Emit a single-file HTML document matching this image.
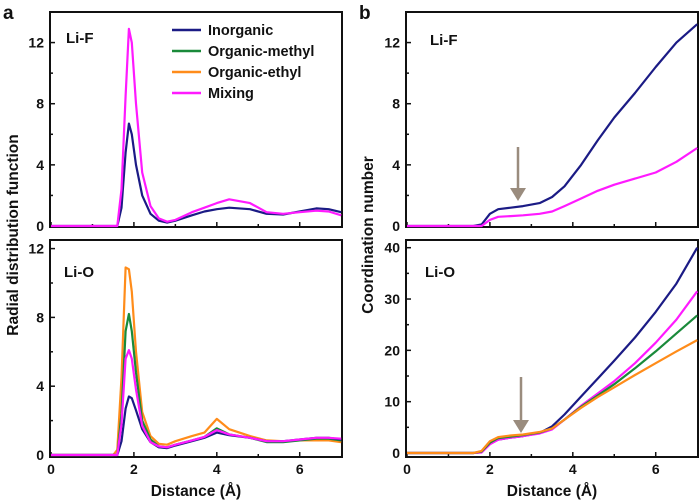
<!DOCTYPE html>
<html><head><meta charset="utf-8"><style>
body{margin:0;background:#fff}
svg{display:block;font-family:"Liberation Sans",Arial,sans-serif;font-weight:bold}
</style></head><body>
<svg id="c" width="700" height="502" viewBox="0 0 700 502"></svg>
<script>
// ---- data ----
const rdfX=[0,1.5,1.6,1.7,1.8,1.88,1.95,2.05,2.2,2.4,2.6,2.8,3.0,3.4,3.7,4.0,4.3,4.8,5.2,5.6,6.0,6.4,6.7,7.0];
const rdfLiF_inorganic=[0,0,0,1.2,4.8,6.7,6.0,4.0,2.0,0.8,0.35,0.22,0.35,0.7,0.95,1.1,1.2,1.1,0.8,0.75,0.95,1.15,1.1,0.9];
const rdfLiF_mixing=[0,0,0,2.4,8.5,12.9,12.0,8.0,3.5,1.3,0.5,0.28,0.4,0.9,1.2,1.5,1.75,1.5,0.9,0.8,0.9,1.0,0.95,0.7];
const rdfLiO_inorganic=[0,0,0,0.8,2.7,3.4,3.3,2.6,1.5,0.75,0.45,0.4,0.55,0.8,1.0,1.3,1.15,1.0,0.8,0.8,0.9,1.0,1.0,0.9];
const rdfLiO_methyl=[0,0,0,2.4,7.2,8.2,7.2,4.8,2.0,0.9,0.5,0.45,0.6,0.85,1.05,1.55,1.2,1.0,0.75,0.75,0.85,0.95,0.95,0.85];
const rdfLiO_ethyl=[0,0,0.3,4.5,10.9,10.8,9.5,6.0,2.5,1.1,0.65,0.6,0.8,1.1,1.3,2.1,1.5,1.1,0.85,0.8,0.85,0.85,0.85,0.75];
const rdfLiO_mixing=[0,0,0,1.8,5.6,6.1,5.6,3.8,1.7,0.75,0.5,0.45,0.6,0.85,1.05,1.45,1.2,1.0,0.8,0.8,0.9,1.0,1.0,0.95];
const cnX=[0,1.6,1.8,2.0,2.2,2.5,2.8,3.2,3.5,3.8,4.2,4.6,5.0,5.5,6.0,6.5,7.0];
const cnLiF_inorganic=[0,0,0.1,0.8,1.1,1.2,1.3,1.5,1.9,2.6,4.0,5.6,7.1,8.7,10.4,12.0,13.2];
const cnLiF_mixing=[0,0,0,0.4,0.6,0.65,0.7,0.8,0.95,1.3,1.8,2.3,2.7,3.1,3.5,4.2,5.1];
const cnLiO_inorganic=[0,0,0.2,1.8,2.6,3.0,3.3,3.9,5.2,7.5,11,14.5,18,22.5,27.5,33,40];
const cnLiO_methyl=[0,0,0.3,2.0,2.9,3.2,3.5,4.0,4.8,6.5,9.0,11.2,13.4,16.5,19.8,23.3,26.8];
const cnLiO_ethyl=[0,0,0.4,2.3,3.1,3.4,3.6,4.1,4.8,6.5,8.8,10.9,12.8,15.2,17.5,19.8,22];
const cnLiO_mixing=[0,0,0.1,1.7,2.6,3.0,3.3,3.8,4.6,6.5,9.2,11.6,14.0,17.5,21.5,26.0,31.5];
const xTicks=[0,2,4,6];
const rdfTicks=[0,4,8,12];
const cnLiOTicks=[0,10,20,30,40];
const seriesNames=["Inorganic","Organic-methyl","Organic-ethyl","Mixing"];
const colors={inorganic:"#1b1b85",methyl:"#1a8a3a",ethyl:"#ff8c1a",mixing:"#ff1aff"};

const svg=document.getElementById('c');
const NS="http://www.w3.org/2000/svg";
function mk(tag,attrs,parent){const e=document.createElementNS(NS,tag);for(const k in attrs)e.setAttribute(k,attrs[k]);(parent||svg).appendChild(e);return e;}

function panel(name,L,R,T,B,ymin,ymax,y0px,yticks,minorStep,showX){
  const g=mk('g',{});
  
  
  const x0=L+1, xs=(R-L-1)/7.02;
  const sx=v=>x0+v*xs;
  const ky=(y0px-T)/(ymax-ymin);
  const syy=v=>y0px-(v-ymin)*ky;
  mk('rect',{x:L,y:T,width:R-L,height:B-T,fill:'none',stroke:'#111','stroke-width':2},g);
  xTicks.forEach(t=>{
    mk('line',{x1:sx(t),x2:sx(t),y1:B,y2:B-5,stroke:'#111','stroke-width':1.5},g);
    if(t+1<7)mk('line',{x1:sx(t+1),x2:sx(t+1),y1:B,y2:B-3,stroke:'#111','stroke-width':1.5},g);
    if(showX){const tx=mk('text',{x:sx(t),y:B+17,'text-anchor':'middle','font-size':14,fill:'#111'},g);tx.textContent=t;
      }
  });
  yticks.forEach(t=>{
    mk('line',{x1:L,x2:L+5,y1:syy(t),y2:syy(t),stroke:'#111','stroke-width':1.5},g);
    const m=t+minorStep; if(syy(m)>T+3)mk('line',{x1:L,x2:L+3,y1:syy(m),y2:syy(m),stroke:'#111','stroke-width':1.5},g);
    const tx=mk('text',{x:L-6,y:syy(t)+5,'text-anchor':'end','font-size':14,fill:'#111'},g);tx.textContent=t;
    
  });
  return {g,sx,sy:syy};
}
function line(p,xs,ys,color,name){
  const pts=xs.map((x,i)=>p.sx(x).toFixed(1)+','+p.sy(ys[i]).toFixed(1)).join(' ');
  const pl=mk('polyline',{points:pts,fill:'none',stroke:color,'stroke-width':2.2,'stroke-linejoin':'round'},p.g);
  
  
}
function txt(x,y,s,size,name,anchor){const t=mk('text',{x:x,y:y,'font-size':size,fill:'#111','text-anchor':anchor||'start'});t.textContent=s;
  return t;}

const aT=panel('rdf-li-f-panel',50,342,12,227,0,14,226,rdfTicks,2,false);
line(aT,rdfX,rdfLiF_inorganic,colors.inorganic,'rdf-li-f-inorganic-line');
line(aT,rdfX,rdfLiF_mixing,colors.mixing,'rdf-li-f-mixing-line');
const aB=panel('rdf-li-o-panel',50,342,240,457,0,12.5,455,rdfTicks,2,true);
line(aB,rdfX,rdfLiO_ethyl,colors.ethyl,'rdf-li-o-ethyl-line');
line(aB,rdfX,rdfLiO_methyl,colors.methyl,'rdf-li-o-methyl-line');
line(aB,rdfX,rdfLiO_inorganic,colors.inorganic,'rdf-li-o-inorganic-line');
line(aB,rdfX,rdfLiO_mixing,colors.mixing,'rdf-li-o-mixing-line');
const bT=panel('cn-li-f-panel',406,698,12,227,0,14,226,rdfTicks,2,false);
line(bT,cnX,cnLiF_inorganic,colors.inorganic,'cn-li-f-inorganic-line');
line(bT,cnX,cnLiF_mixing,colors.mixing,'cn-li-f-mixing-line');
const bB=panel('cn-li-o-panel',406,698,240,457,0,41.5,453,cnLiOTicks,5,true);
line(bB,cnX,cnLiO_inorganic,colors.inorganic,'cn-li-o-inorganic-line');
line(bB,cnX,cnLiO_mixing,colors.mixing,'cn-li-o-mixing-line');
line(bB,cnX,cnLiO_methyl,colors.methyl,'cn-li-o-methyl-line');
line(bB,cnX,cnLiO_ethyl,colors.ethyl,'cn-li-o-ethyl-line');

function arrow(x,y1,y2,name){const g=mk('g',{});
  mk('line',{x1:x,x2:x,y1:y1,y2:y2-8,stroke:'#9a8c7e','stroke-width':2.5},g);
  mk('polygon',{points:`${x-8},${y2-13} ${x+8},${y2-13} ${x},${y2}`,fill:'#9a8c7e'},g);}
arrow(518,147,201,'li-f-arrow');
arrow(521,377,433,'li-o-arrow');

const legColors=[colors.inorganic,colors.methyl,colors.ethyl,colors.mixing];
seriesNames.forEach((n,i)=>{const y=30+i*21;
  const g=mk('g',{});
  mk('line',{x1:172,x2:201,y1:y,y2:y,stroke:legColors[i],'stroke-width':2.5},g);
  const t=mk('text',{x:208,y:y+5,'font-size':14.5,fill:'#111'},g);t.textContent=n;});

txt(3,19,'a',19,'panel-label-a');
txt(359,19,'b',19,'panel-label-b');
txt(66,43,'Li-F',15,'li-f-label-a');
txt(64,277,'Li-O',15,'li-o-label-a');
txt(430,45,'Li-F',15,'li-f-label-b');
txt(425,277,'Li-O',15,'li-o-label-b');
txt(196,496,'Distance (Å)',15.5,'x-axis-title-a','middle');
txt(552,496,'Distance (Å)',15.5,'x-axis-title-b','middle');
const ya=txt(0,0,'Radial distribution function',15.5,'y-axis-title-a','middle');ya.setAttribute('transform','translate(18,235) rotate(-90)');
const yb=txt(0,0,'Coordination number',15.5,'y-axis-title-b','middle');yb.setAttribute('transform','translate(373,235) rotate(-90)');
</script>
</body></html>
